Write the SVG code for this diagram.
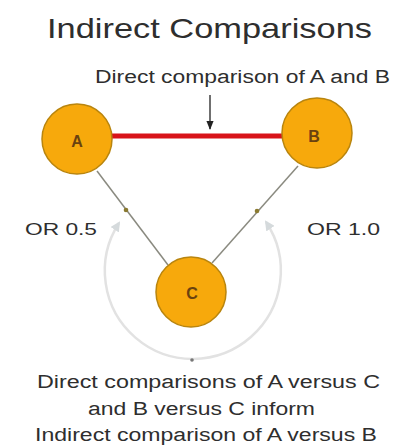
<svg xmlns="http://www.w3.org/2000/svg" width="395" height="445" viewBox="0 0 395 445">
<style>
.t{font-family:"Liberation Sans",Arial,sans-serif;fill:#2e2e2e;}
.node circle{fill:#F7A90C;stroke:#B9850E;stroke-width:1.5;}
.node text{font-family:"Liberation Sans",Arial,sans-serif;font-weight:bold;font-size:16px;fill:#6a4210;text-anchor:middle;}
.edge{stroke:#8a8a80;stroke-width:1.5;fill:none;}
</style>
<defs>
<marker id="arrDown" viewBox="0 0 10 10" refX="9" refY="5" markerWidth="7" markerHeight="7" orient="auto">
<path d="M0,1 L10,5 L0,9 z" fill="#222"/>
</marker>
<marker id="arrGray" viewBox="0 0 10 10" refX="8" refY="5" markerWidth="4" markerHeight="4" orient="auto-start-reverse">
<path d="M0,0 L10,5 L0,10 z" fill="#d5dadc"/>
</marker>
</defs>
<rect width="395" height="445" fill="#ffffff"/>
<text class="t" x="47" y="38" font-size="28" textLength="325" lengthAdjust="spacingAndGlyphs">Indirect Comparisons</text>
<text class="t" x="95" y="83" font-size="18" textLength="295" lengthAdjust="spacingAndGlyphs">Direct comparison of A and B</text>
<g id="connectors">
<line x1="210" y1="95" x2="210" y2="129" stroke="#222" stroke-width="1.3" marker-end="url(#arrDown)"/>
<line x1="111" y1="136" x2="284" y2="136" stroke="#D8141A" stroke-width="5"/>
<line class="edge" x1="97" y1="171" x2="168" y2="265"/>
<line class="edge" x1="298" y1="166" x2="212" y2="263"/>
<circle cx="126" cy="210" r="2.3" fill="#8a7a30"/>
<circle cx="257" cy="211" r="2.3" fill="#8a7a30"/>
<path d="M119,223 A88,88 0 1,0 266,222" fill="none" stroke="#e2e2e2" stroke-width="2.5" marker-start="url(#arrGray)" marker-end="url(#arrGray)"/>
<circle cx="192" cy="360" r="1.8" fill="#777"/>
</g>
<g id="nodeA" class="node"><circle cx="77" cy="139" r="35"/><text x="77" y="147">A</text></g>
<g id="nodeB" class="node"><circle cx="317" cy="133" r="35"/><text x="314" y="142">B</text></g>
<g id="nodeC" class="node"><circle cx="191" cy="292" r="35"/><text x="192" y="299">C</text></g>
<text class="t" x="25" y="235" font-size="17" textLength="72" lengthAdjust="spacingAndGlyphs">OR 0.5</text>
<text class="t" x="307" y="235" font-size="17" textLength="73" lengthAdjust="spacingAndGlyphs">OR 1.0</text>
<text class="t" x="37" y="388" font-size="18" textLength="343" lengthAdjust="spacingAndGlyphs">Direct comparisons of A versus C</text>
<text class="t" x="88" y="415" font-size="18" textLength="227" lengthAdjust="spacingAndGlyphs">and B versus C inform</text>
<text class="t" x="35" y="441" font-size="18" textLength="342" lengthAdjust="spacingAndGlyphs">Indirect comparison of A versus B</text>
</svg>
